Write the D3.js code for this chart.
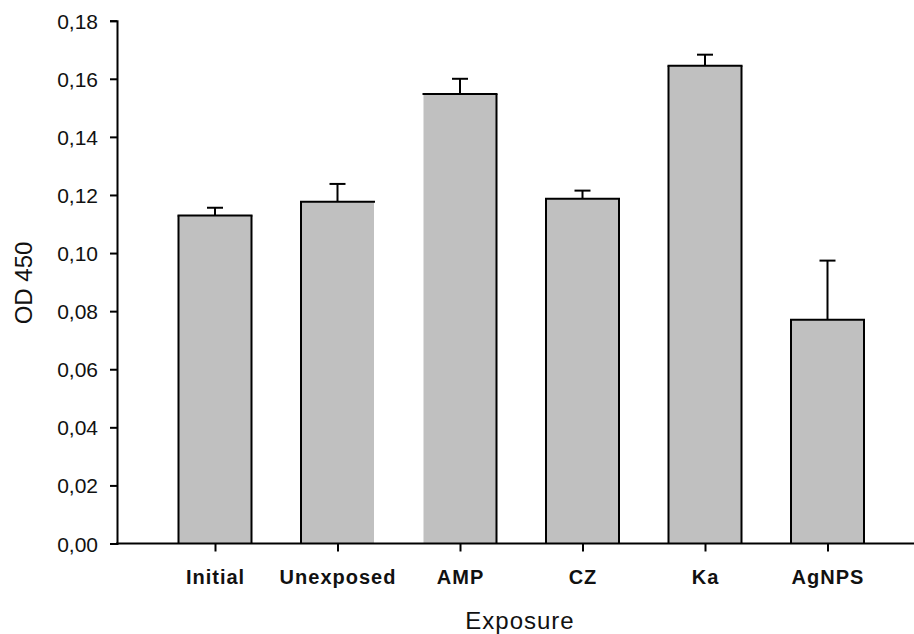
<!DOCTYPE html>
<html>
<head>
<meta charset="utf-8">
<script src="https://cdn.jsdelivr.net/npm/d3@7.9.0/dist/d3.min.js"></script>
<style>
  body { margin: 0; background: #fff; }
  svg { display: block; font-family: 'Liberation Sans', Arial, sans-serif; }
  .axis path, .axis line { stroke: #000; stroke-width: 2px; }
  .y-axis text { font-size: 21px; fill: #111; }
  .x-axis text { font-size: 20px; font-weight: bold; letter-spacing: 1px; fill: #111; }
</style>
</head>
<body>
<div id="chart"></div>
<script>
// data
const categories = ['Initial', 'Unexposed', 'AMP', 'CZ', 'Ka', 'AgNPS'];
const means = [0.1129, 0.1177, 0.1548, 0.1187, 0.1645, 0.0770];
const errors = [0.0027, 0.0061, 0.0052, 0.0028, 0.0038, 0.0204];
const yTicks = [0, 0.02, 0.04, 0.06, 0.08, 0.10, 0.12, 0.14, 0.16, 0.18];

// some bars in the original lost one side of their outline
const missingSide = { Unexposed: 'right', AMP: 'left' };

const width = 914;
const height = 634;
const area = { left: 117, right: 914, top: 20.7, bottom: 543.5 };
const barWidth = 73;

const svg = d3.select('#chart')
  .append('svg')
  .attr('width', width)
  .attr('height', height);

const xScale = d3.scalePoint()
  .domain(categories)
  .range([215, 827.5]);

const yScale = d3.scaleLinear()
  .domain([0, 0.18])
  .range([area.bottom, area.top]);

const commaFmt = d3.formatLocale({ decimal: ',', thousands: '.', grouping: [3], currency: ['', ''] }).format('.2f');

const rows = categories.map((c, i) => ({ cat: c, mean: means[i], err: errors[i] }));

// bars
const bars = svg.append('g').attr('class', 'bars')
  .selectAll('g')
  .data(rows)
  .join('g');

bars.append('rect')
  .attr('x', (d) => xScale(d.cat) - barWidth / 2)
  .attr('y', (d) => yScale(d.mean))
  .attr('width', barWidth)
  .attr('height', (d) => yScale(0) - yScale(d.mean))
  .attr('fill', '#c0c0c0');

bars.each(function (d) {
  const g = d3.select(this);
  const x0 = xScale(d.cat) - barWidth / 2;
  const x1 = xScale(d.cat) + barWidth / 2;
  const y0 = yScale(d.mean);
  const y1 = yScale(0);
  const sides = [
    ['top', x0 - 1, y0, x1 + 1, y0],
    ['left', x0, y0, x0, y1],
    ['right', x1, y0, x1, y1],
  ];
  sides.filter((s) => missingSide[d.cat] !== s[0]).forEach((s) => {
    g.append('line')
      .attr('x1', s[1]).attr('y1', s[2])
      .attr('x2', s[3]).attr('y2', s[4])
      .attr('stroke', '#000')
      .attr('stroke-width', 2);
  });
});

// error bars (upper only)
const err = svg.append('g').attr('class', 'errors')
  .selectAll('g')
  .data(rows)
  .join('g')
  .attr('stroke', '#000')
  .attr('stroke-width', 2);

err.append('line')
  .attr('x1', (d) => xScale(d.cat))
  .attr('x2', (d) => xScale(d.cat))
  .attr('y1', (d) => yScale(d.mean))
  .attr('y2', (d) => yScale(d.mean + d.err));

err.append('line')
  .attr('x1', (d) => xScale(d.cat) - 8)
  .attr('x2', (d) => xScale(d.cat) + 8)
  .attr('y1', (d) => yScale(d.mean + d.err))
  .attr('y2', (d) => yScale(d.mean + d.err));

// y axis
const yAxis = svg.append('g')
  .attr('class', 'axis y-axis')
  .attr('transform', `translate(${area.left},0)`)
  .call(d3.axisLeft(yScale).tickValues(yTicks).tickFormat(commaFmt).tickSize(7).tickSizeOuter(7).tickPadding(12));
yAxis.selectAll('text').attr('dy', '0.36em');

// x axis: line spans to the right edge, ticks at category centres
svg.append('line')
  .attr('class', 'axis')
  .attr('x1', area.left - 1)
  .attr('x2', area.right)
  .attr('y1', area.bottom)
  .attr('y2', area.bottom)
  .attr('stroke', '#000')
  .attr('stroke-width', 2);

const xAxis = svg.append('g')
  .attr('class', 'axis x-axis')
  .attr('transform', `translate(0,${area.bottom})`)
  .call(d3.axisBottom(xScale).tickSize(8).tickSizeOuter(0).tickPadding(18));
xAxis.select('.domain').remove();
xAxis.selectAll('text').attr('dy', '0.71em');

// axis titles
svg.append('text')
  .attr('x', 520)
  .attr('y', 629)
  .attr('text-anchor', 'middle')
  .attr('font-size', 24)
  .attr('letter-spacing', 1)
  .attr('fill', '#111')
  .text('Exposure');

svg.append('text')
  .attr('transform', 'translate(32,283) rotate(-90)')
  .attr('text-anchor', 'middle')
  .attr('font-size', 24)
  .attr('fill', '#111')
  .text('OD 450');
</script>
</body>
</html>
